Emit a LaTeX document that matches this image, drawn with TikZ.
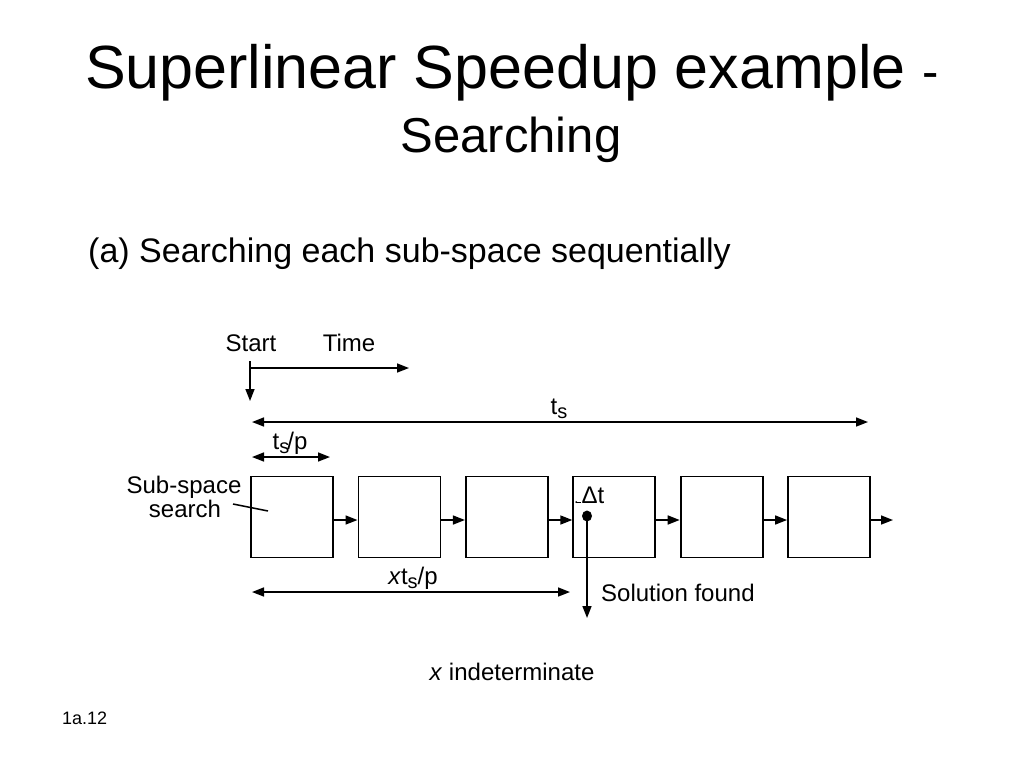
\documentclass[tikz,border=0pt]{standalone}
\usepackage{fontspec}
\setmainfont{Liberation Sans}
\usetikzlibrary{arrows.meta, calc}
\newcommand{\lowsub}[1]{\raisebox{-4pt}{\fontsize{20}{24}\selectfont #1}}

\begin{document}
\begin{tikzpicture}[x=1pt, y=-1pt,
  txt/.style={font=\fontsize{24}{28}\selectfont, inner sep=0pt, anchor=base},
  box/.style={draw, line width=1.8pt, minimum width=82pt, minimum height=81pt, inner sep=0pt},
  arr/.style={line width=1.6pt, -{Triangle[length=12pt, width=9pt]}},
  dim/.style={line width=1.6pt, {Triangle[length=12pt, width=9pt]}-{Triangle[length=12pt, width=9pt]}}]
 \useasboundingbox (0,0) rectangle (1024,768);

 % title
 \node[anchor=base, inner sep=0pt] (title) at (512,88) {\fontsize{61}{70}\selectfont Superlinear Speedup example \fontsize{49}{56}\selectfont -};
 \node[anchor=base, inner sep=0pt] (title2) at (511,152) {\fontsize{49}{56}\selectfont Searching};
 \node[anchor=base west, inner sep=0pt] (sub) at (88,262) {\fontsize{34}{40}\selectfont (a) Searching each sub-space sequentially};

 % start / time
 \node[txt] (start) at (251,351) {Start};
 \node[txt] (time) at (349,351) {Time};
 \coordinate (S0) at (250,361);
 \coordinate (S1) at (250,401);
 \coordinate (T0) at (250,368);
 \coordinate (T1) at (409,368);
 \draw[arr] (S0) -- (S1);
 \draw[arr] (T0) -- (T1);

 % sub-spaces
 \foreach \i in {1,...,6}
  \node[box] (b\i) at ({292+(\i-1)*107.4}, 517) {};
 \foreach \i/\j in {1/2, 2/3, 3/4, 4/5, 5/6}
  \draw[arr] ([yshift=-3pt]b\i.east) -- ([yshift=-3pt]b\j.west);
 \coordinate (E) at (893,520);
 \draw[arr] ([yshift=-3pt]b6.east) -- (E);

 \node[txt] (ss1) at (184,493) {Sub-space};
 \node[txt] (ss2) at (185,517) {search};
 \coordinate (L0) at (233,504);
 \coordinate (L1) at (268,511);
 \draw[line width=1.5pt] (L0) -- (L1);

 % lengths
 \coordinate (TsL) at (252,422);
 \coordinate (TsR) at (868,422);
 \draw[dim] (TsL) -- (TsR);
 \node[txt] (ts) at (559,414) {t\lowsub{s}};

 \coordinate (PL) at (252,457);
 \coordinate (PR) at (330,457);
 \draw[dim] (PL) -- (PR);
 \node[txt] (tsp) at (290,449) {t\lowsub{s}\kern-2pt/p};

 \coordinate (XL) at (252,592);
 \coordinate (XR) at (570,592);
 \draw[dim] (XL) -- (XR);
 \node[txt] (xtsp) at (413,584) {\textit{x}t\lowsub{s}/p};

 % solution
 \node[txt] (dt) at (593,503) {Δt};
 \coordinate (D0) at (581,502);
 \coordinate (D1) at (575,502);
 \draw[line width=0.6pt, -{Stealth[length=2pt, width=2pt]}] (D0) -- (D1);
 \coordinate (sol) at (587,516);
 \coordinate (solend) at (587,618);
 \fill (sol) ellipse (5 and 5.5);
 \draw[arr] (sol) -- (solend);
 \node[txt, anchor=base west] (found) at (601,601) {Solution found};

 \node[txt] (xind) at (512,680) {\textit{x} indeterminate};
 \node[anchor=base west, inner sep=0pt, font=\fontsize{18}{22}\selectfont] (num) at (62,724) {1a.12};
\end{tikzpicture}
\end{document}
